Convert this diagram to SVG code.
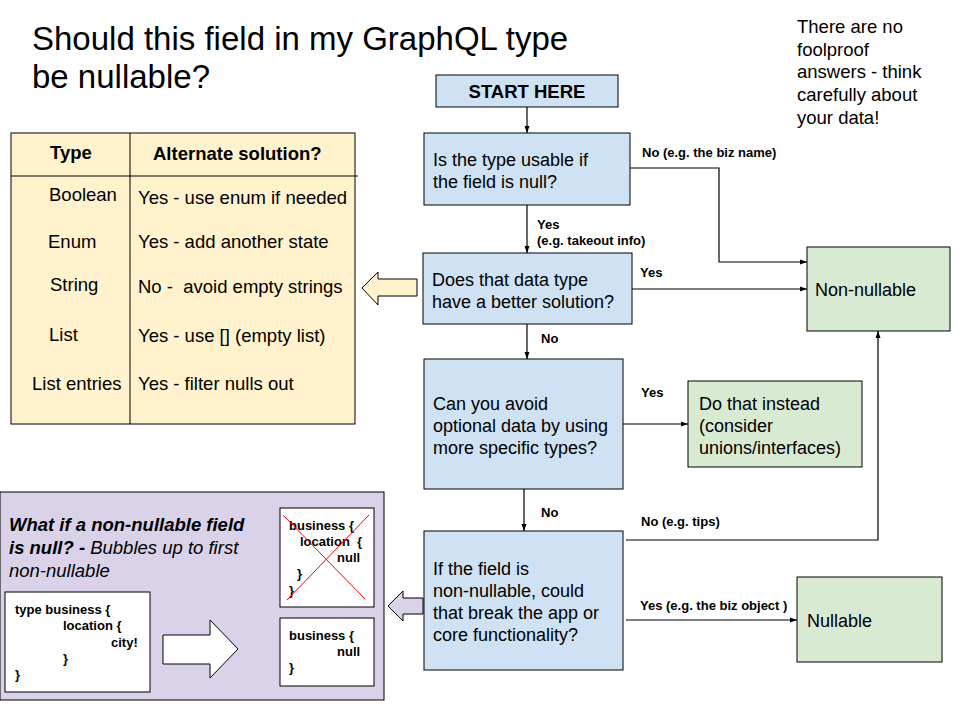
<svg xmlns="http://www.w3.org/2000/svg" width="960" height="720" viewBox="0 0 960 720">
<style>
text{font-family:"Liberation Sans",Arial,sans-serif;fill:#000}
.t{font-size:33px}
.b{font-size:18px}
.tb{font-size:18.5px}
.lbl{font-size:13px;font-weight:bold}
.code{font-size:13px;font-weight:bold}
.blue{fill:#cfe2f3;stroke:#000;stroke-width:1}
.green{fill:#d9ead3;stroke:#000;stroke-width:1}
.conn{fill:none;stroke:#000;stroke-width:1.2}
</style>
<defs>
<marker id="ah" markerWidth="8" markerHeight="8" refX="7" refY="4" orient="auto" markerUnits="userSpaceOnUse">
<path d="M0,1.5 L7,4 L0,6.5 Z" fill="#000"/>
</marker>
</defs>
<rect width="960" height="720" fill="#fff"/>
<g id="title">
<text class="t" x="32" y="50">Should this field in my GraphQL type</text>
<text class="t" x="32" y="88">be nullable?</text>
</g>
<g id="note">
<text class="tb" x="797" y="33">There are no</text>
<text class="tb" x="797" y="56">foolproof</text>
<text class="tb" x="797" y="78">answers - think</text>
<text class="tb" x="797" y="101">carefully about</text>
<text class="tb" x="797" y="124">your data!</text>
</g>
<g id="table">
<rect x="11" y="133" width="344" height="291" fill="#fff2cc" stroke="#000"/>
<line x1="11" y1="176" x2="358" y2="176" stroke="#000"/>
<line x1="130" y1="133" x2="130" y2="424" stroke="#000"/>
<text class="tb" x="50" y="159" font-weight="bold">Type</text>
<text class="tb" x="153" y="160" font-weight="bold">Alternate solution?</text>
<text class="tb" x="49" y="201">Boolean</text>
<text class="tb" x="48" y="248">Enum</text>
<text class="tb" x="50" y="291">String</text>
<text class="tb" x="49" y="341">List</text>
<text class="tb" x="32" y="390">List entries</text>
<text class="tb" x="138" y="204">Yes - use enum if needed</text>
<text class="tb" x="138" y="248">Yes - add another state</text>
<text class="tb" x="138" y="293" xml:space="preserve">No -  avoid empty strings</text>
<text class="tb" x="138" y="342">Yes - use [] (empty list)</text>
<text class="tb" x="138" y="390">Yes - filter nulls out</text>
</g>
<g id="table-arrow">
<path d="M362,288 L378,272 L378,279 L417,279 L417,296 L378,296 L378,305 Z" fill="#fff2cc" stroke="#000" stroke-width="1"/>
</g>
<g id="start">
<rect class="blue" x="436" y="75" width="182" height="32"/>
<text x="527" y="98" font-size="18.5" font-weight="bold" text-anchor="middle">START HERE</text>
</g>
<g id="q1">
<rect class="blue" x="424" y="133" width="206" height="72"/>
<text class="b" x="433" y="166">Is the type usable if</text>
<text class="b" x="433" y="188">the field is null?</text>
</g>
<g id="q2">
<rect class="blue" x="423" y="253" width="209" height="71"/>
<text class="b" x="432" y="286">Does that data type</text>
<text class="b" x="432" y="308">have a better solution?</text>
</g>
<g id="q3">
<rect class="blue" x="424" y="359" width="199" height="130"/>
<text class="b" x="433" y="410">Can you avoid</text>
<text class="b" x="433" y="432">optional data by using</text>
<text class="b" x="433" y="454">more specific types?</text>
</g>
<g id="q4">
<rect class="blue" x="424" y="531" width="199" height="139"/>
<text class="b" x="433" y="575">If the field is</text>
<text class="b" x="433" y="597">non-nullable, could</text>
<text class="b" x="433" y="619">that break the app or</text>
<text class="b" x="433" y="641">core functionality?</text>
</g>
<g id="nonnullable">
<rect class="green" x="807" y="247" width="143" height="84"/>
<text class="b" x="815" y="296">Non-nullable</text>
</g>
<g id="dothat">
<rect class="green" x="688" y="381" width="174" height="86"/>
<text class="b" x="699" y="410">Do that instead</text>
<text class="b" x="699" y="432">(consider</text>
<text class="b" x="699" y="454">unions/interfaces)</text>
</g>
<g id="nullable">
<rect class="green" x="797" y="577" width="145" height="85"/>
<text class="b" x="807" y="627">Nullable</text>
</g>
<g id="connectors">
<path class="conn" d="M527,107 L527,133" marker-end="url(#ah)"/>
<path class="conn" d="M527,205 L527,253" marker-end="url(#ah)"/>
<path class="conn" d="M630,168 L719,168 L719,262 L807,262" marker-end="url(#ah)"/>
<path class="conn" d="M632,289 L807,289" marker-end="url(#ah)"/>
<path class="conn" d="M527,324 L527,359" marker-end="url(#ah)"/>
<path class="conn" d="M623,424 L688,424" marker-end="url(#ah)"/>
<path class="conn" d="M524,489 L524,531" marker-end="url(#ah)"/>
<path class="conn" d="M626,540 L878,540 L878,331" marker-end="url(#ah)"/>
<path class="conn" d="M626,620 L797,620" marker-end="url(#ah)"/>
<text class="lbl" x="642" y="157">No (e.g. the biz name)</text>
<text class="lbl" x="537" y="229">Yes</text>
<text class="lbl" x="537" y="245">(e.g. takeout info)</text>
<text class="lbl" x="640" y="277">Yes</text>
<text class="lbl" x="541" y="343">No</text>
<text class="lbl" x="641" y="397">Yes</text>
<text class="lbl" x="541" y="517">No</text>
<text class="lbl" x="641" y="526">No (e.g. tips)</text>
<text class="lbl" x="640" y="610">Yes (e.g. the biz object )</text>
</g>
<g id="purple-arrow">
<path d="M388,606 L403,591 L403,598 L423,598 L423,614 L403,614 L403,621 Z" fill="#d9d2e9" stroke="#000" stroke-width="1"/>
</g>
<g id="bubble-panel">
<rect x="0" y="492" width="384" height="208" fill="#d9d2e9" stroke="#000"/>
<text x="9" y="531" font-size="18.5" font-weight="bold" font-style="italic">What if a non-nullable field</text>
<text x="9" y="554" font-size="18.5" font-style="italic"><tspan font-weight="bold">is null? - </tspan>Bubbles up to first</text>
<text x="9" y="577" font-size="18.5" font-style="italic">non-nullable</text>
<rect x="5" y="592" width="145" height="100" fill="#fff" stroke="#000"/>
<text class="code" x="15" y="614">type business {</text>
<text class="code" x="63" y="630">location {</text>
<text class="code" x="111" y="647">city!</text>
<text class="code" x="63" y="663">}</text>
<text class="code" x="15" y="679">}</text>
<path d="M163,635 L210,635 L210,620 L238,649 L210,678 L210,664 L163,664 Z" fill="#fff" stroke="#000" stroke-width="1"/>
<rect x="280" y="508" width="94" height="99" fill="#fff" stroke="#000"/>
<text class="code" x="289" y="530">business {</text>
<text class="code" x="300" y="546" xml:space="preserve">location  {</text>
<text class="code" x="337" y="562">null</text>
<text class="code" x="297" y="578">}</text>
<text class="code" x="289" y="595">}</text>
<line x1="283" y1="515" x2="365" y2="599" stroke="#ff0000" stroke-width="1"/>
<line x1="369" y1="515" x2="287" y2="600" stroke="#ff0000" stroke-width="1"/>
<rect x="280" y="618" width="94" height="68" fill="#fff" stroke="#000"/>
<text class="code" x="289" y="640">business {</text>
<text class="code" x="337" y="656">null</text>
<text class="code" x="289" y="672">}</text>
</g>
</svg>
